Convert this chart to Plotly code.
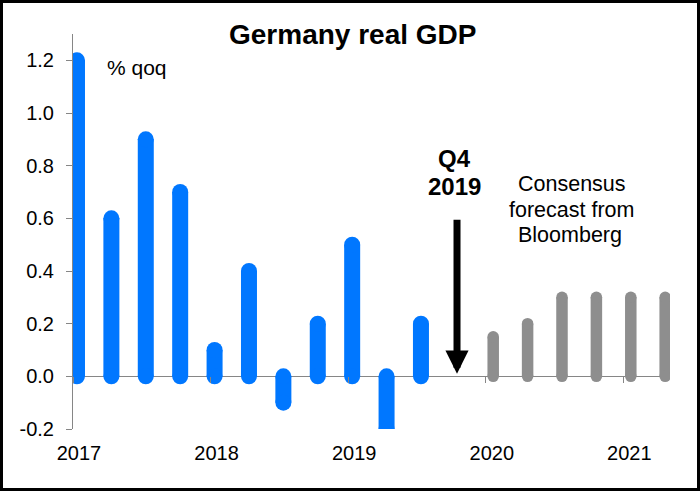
import plotly.graph_objects as go

# ---- data ----
quarters_actual = ["2017Q1", "2017Q2", "2017Q3", "2017Q4", "2018Q1", "2018Q2",
                   "2018Q3", "2018Q4", "2019Q1", "2019Q2", "2019Q3"]
gdp_actual = [1.2, 0.6, 0.9, 0.7, 0.1, 0.4, -0.1, 0.2, 0.5, -0.2, 0.2]
quarters_forecast = ["2020Q1", "2020Q2", "2020Q3", "2020Q4", "2021Q1", "2021Q2"]
gdp_forecast = [0.15, 0.2, 0.3, 0.3, 0.3, 0.3]
arrow_quarter = "2019Q4"
year_ticks = [2017, 2018, 2019, 2020, 2021]
year_labels = ["2017", "2018", "2019", "2020", "2021"]
y_ticks = [-0.2, 0.0, 0.2, 0.4, 0.6, 0.8, 1.0, 1.2]
y_labels = ["-0.2", "0.0", "0.2", "0.4", "0.6", "0.8", "1.0", "1.2"]

# ---- style ----
FONT = "Liberation Sans, Arial, sans-serif"
BLUE = "#0077FF"
GREY = "#8E8E8E"
AXIS = "#868686"
W, H = 700, 491
L, R, T, B = 73, 670, 34, 429
X_RANGE = [2017.0, 2021.339]
Y_RANGE = [-0.2, 1.3]


def qpos(q, offset):
    return int(q[:4]) + (int(q[5]) - 1) / 4 + offset


def px(x):
    return (x - L) / (R - L)


def py(y):
    return (B - y) / (B - T)


def bar_trace(quarters, values, color, width, offset):
    xs, ys = [], []
    for q, v in zip(quarters, values):
        xq = qpos(q, offset)
        xs += [xq, xq, None]
        ys += [0, v, None]
    return go.Scatter(
        x=xs, y=ys, mode="lines+markers",
        line=dict(color=color, width=width),
        marker=dict(color=color, size=width, line=dict(width=0)),
        hoverinfo="skip", showlegend=False, cliponaxis=True,
    )


fig = go.Figure()
fig.add_trace(bar_trace(quarters_actual, gdp_actual, BLUE, 16, 0.029))
fig.add_trace(bar_trace(quarters_forecast, gdp_forecast, GREY, 11.5, 0.054))

ax_x = qpos(arrow_quarter, 0.041)

annotations = [
    dict(x=ax_x, y=0.01, ax=ax_x, ay=0.6, xref="x", yref="y", axref="x", ayref="y",
         text="", showarrow=True, arrowhead=2, arrowwidth=7, arrowsize=0.66,
         arrowcolor="black", standoff=0),
    dict(x=px(352), y=py(34), xref="paper", yref="paper", text="<b>Germany real GDP</b>",
         showarrow=False, xanchor="center", yanchor="middle",
         font=dict(family=FONT, size=28, color="black")),
    dict(x=px(136.5), y=py(67), xref="paper", yref="paper", text="% qoq",
         showarrow=False, xanchor="center", yanchor="middle",
         font=dict(family=FONT, size=21, color="black")),
    dict(x=px(454), y=py(158), xref="paper", yref="paper", text="<b>Q4</b>",
         showarrow=False, xanchor="center", yanchor="middle",
         font=dict(family=FONT, size=24, color="black")),
    dict(x=px(454.5), y=py(186.5), xref="paper", yref="paper", text="<b>2019</b>",
         showarrow=False, xanchor="center", yanchor="middle",
         font=dict(family=FONT, size=24, color="black")),
    dict(x=px(571.5), y=py(184), xref="paper", yref="paper", text="Consensus",
         showarrow=False, xanchor="center", yanchor="middle",
         font=dict(family=FONT, size=21.5, color="black")),
    dict(x=px(571), y=py(209.5), xref="paper", yref="paper", text="forecast from",
         showarrow=False, xanchor="center", yanchor="middle",
         font=dict(family=FONT, size=21.5, color="black")),
    dict(x=px(570), y=py(235), xref="paper", yref="paper", text="Bloomberg",
         showarrow=False, xanchor="center", yanchor="middle",
         font=dict(family=FONT, size=21.5, color="black")),
]

fig.update_layout(
    width=W, height=H, autosize=False,
    margin=dict(l=L, r=W - R, t=T, b=H - B, pad=0),
    paper_bgcolor="white", plot_bgcolor="white",
    showlegend=False, hovermode=False,
    annotations=annotations,
    shapes=[dict(type="rect", xref="paper", yref="paper",
                 x0=px(1.5), x1=px(W - 1.5), y0=py(H - 1.5), y1=py(1.5),
                 line=dict(color="black", width=3), fillcolor="rgba(0,0,0,0)",
                 layer="above")],
    xaxis=dict(
        range=X_RANGE, anchor="free",
        position=(0 - Y_RANGE[0]) / (Y_RANGE[1] - Y_RANGE[0]),
        tickvals=year_ticks, ticktext=year_labels,
        ticks="outside", ticklen=6, tickwidth=1, tickcolor=AXIS,
        showline=False, showgrid=False, zeroline=False,
        ticklabelstandoff=53, ticklabelshift=6,
        tickfont=dict(family=FONT, size=20, color="black"),
    ),
    yaxis=dict(
        range=Y_RANGE, tickvals=y_ticks, ticktext=y_labels,
        ticks="outside", ticklen=6, tickwidth=1, tickcolor=AXIS,
        showline=True, linecolor=AXIS, linewidth=1,
        showgrid=False, zeroline=True, zerolinecolor=AXIS, zerolinewidth=1,
        ticklabelstandoff=8,
        tickfont=dict(family=FONT, size=20, color="black"),
    ),
)

fig.write_html("out.html", config={"displayModeBar": False, "staticPlot": True},
               post_script="document.body.style.margin='0px';document.body.style.overflow='hidden';")
